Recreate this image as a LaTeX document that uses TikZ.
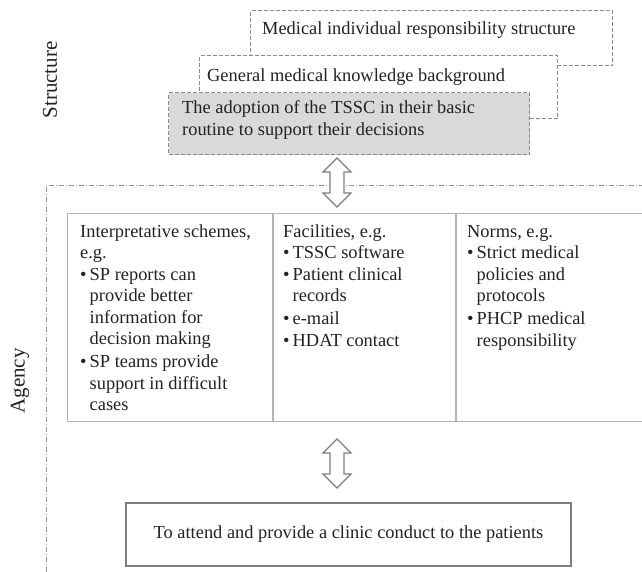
\documentclass[tikz,border=0pt]{standalone}
\usepackage{fontspec}
\setmainfont{Liberation Serif}
\definecolor{dashgray}{HTML}{8A8A8A}
\definecolor{fillgray}{HTML}{D9D9D9}
\definecolor{rulegray}{HTML}{B4B4B4}
\definecolor{framegray}{HTML}{959595}
\definecolor{boxgray}{HTML}{7E7E7E}
\definecolor{inkgray}{HTML}{222222}
\newcommand\bulletmark{\makebox[9.5pt][l]{•}}
\newcommand\hangmark{\hspace*{9.5pt}}
% vertical two-headed outline arrow: x, top tip, bottom tip
\newcommand\twowayarrow[3]{%
  \draw[arrowshape] (#1,#2) -- (#1+14,#2+14) -- (#1+7,#2+14) -- (#1+7,#3-14)
    -- (#1+14,#3-14) -- (#1,#3) -- (#1-14,#3-14) -- (#1-7,#3-14)
    -- (#1-7,#2+14) -- (#1-14,#2+14) -- cycle;}
\begin{document}
\begin{tikzpicture}[x=1pt,y=-1pt,
  txt/.style={inner sep=0pt, text=inkgray, font=\fontsize{18.4}{21.5}\selectfont},
  sidelabel/.style={inner sep=0pt, text=inkgray, font=\fontsize{21}{24}\selectfont, rotate=90},
  layerbox/.style={draw=dashgray, dash pattern=on 4pt off 2pt, line width=1.2pt,
    inner sep=0pt, anchor=north west},
  % multi-line cells are placed by the baseline of their last line
  cell/.style={txt, anchor=base west, align=left},
  tablebox/.style={draw=rulegray, line width=1.2pt, inner sep=0pt, anchor=north west},
  tableline/.style={draw=rulegray, line width=1.2pt},
  endbox/.style={txt, draw=boxgray, line width=1.4pt},
  agencyframe/.style={draw=framegray, line width=0.9pt,
    dash pattern=on 5pt off 2pt on 1pt off 2pt},
  arrowshape/.style={draw=boxgray, fill=white, line width=1.2pt, line join=miter},
]
\useasboundingbox (0,0) rectangle (642,572);
\clip (0,0) rectangle (642,572);

% side labels
\node[sidelabel] (structure) at (50,80) {Structure};
\node[sidelabel] (agency) at (20,381) {Agency};

% stacked structure layers
\node[layerbox, minimum width=362, minimum height=55] (resp) at (250,10) {};
\node[txt, anchor=base west] (resptext) at (262,35) {Medical individual responsibility structure};
\node[layerbox, fill=white, minimum width=358, minimum height=63] (know) at (199,55) {};
\node[txt, anchor=base west] (knowtext) at (207,82) {General medical knowledge background};
\node[layerbox, fill=fillgray, minimum width=361, minimum height=62] (tssc) at (168,92) {};
\node[cell] (tssctext) at (182,135.5) {The adoption of the TSSC in their basic\\ routine to support their decisions};

% agency frame
\coordinate (framecorner) at (46,185);
\draw[agencyframe] (46,572) -- (framecorner) -- (642,185);

% modalities table
\node[tablebox, minimum width=580, minimum height=208] (tbl) at (67,213) {};
\coordinate (div1top) at (273,213);
\coordinate (div1bot) at (273,421);
\coordinate (div2top) at (456,213);
\coordinate (div2bot) at (456,421);
\draw[tableline] (div1top) -- (div1bot);
\draw[tableline] (div2top) -- (div2bot);

\node[cell] (interp) at (80,410.5) {Interpretative schemes,\\ e.g.\\
  \bulletmark SP reports can\\ \hangmark provide better\\ \hangmark information for\\
  \hangmark decision making\\[1.5pt] \bulletmark SP teams provide\\
  \hangmark support in difficult\\ \hangmark cases};
\node[cell] (facil) at (283,346) {Facilities, e.g.\\ \bulletmark TSSC software\\
  \bulletmark Patient clinical\\ \hangmark records\\[1.5pt] \bulletmark e-mail\\
  \bulletmark HDAT contact};
\node[cell] (norms) at (467,346) {Norms, e.g.\\ \bulletmark Strict medical\\
  \hangmark policies and\\ \hangmark protocols\\[1.5pt] \bulletmark PHCP medical\\
  \hangmark responsibility};

% outcome
\node[endbox, minimum width=445, minimum height=63] (attend) at (348.5,534.5)
  {To attend and provide a clinic conduct to the patients};

% two-way arrows
\twowayarrow{337}{158}{207}
\twowayarrow{337}{439}{488}
\end{tikzpicture}
\end{document}
